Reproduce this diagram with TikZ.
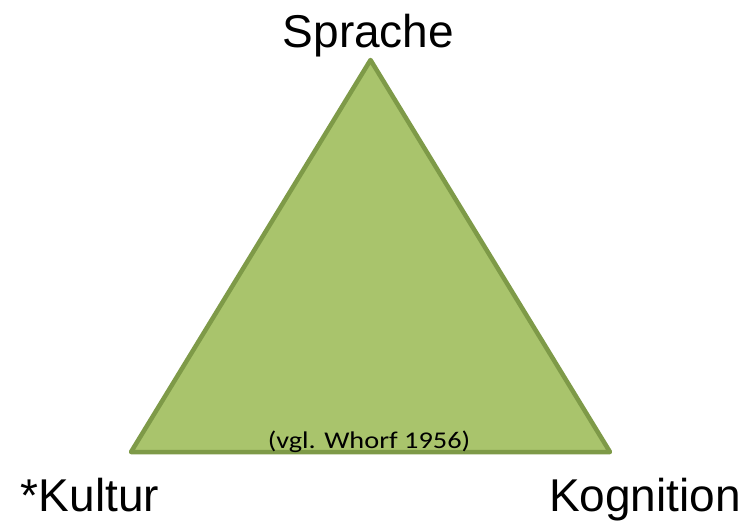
\documentclass[tikz,border=0pt]{standalone}
\usepackage{fontspec}
\setmainfont{Liberation Sans}
\newfontfamily\notefont[FakeStretch=1.18]{Carlito}
\usepackage{xcolor}
\usepackage{tikz}
\usetikzlibrary{arrows.meta}

\definecolor{trifill}{RGB}{169,196,108}
\definecolor{triline}{RGB}{126,154,72}

\begin{document}
\begin{tikzpicture}[
	x=1pt, y=-1pt,
	corner/.style={
		anchor=base,
		inner sep=0pt,
		font=\fontsize{46}{55}\selectfont
	},
	note/.style={
		anchor=base,
		inner sep=0pt,
		font=\notefont\fontsize{24}{29}\selectfont
	},
	tri/.style={
		draw=triline,
		fill=trifill,
		line width=4.5pt,
		line join=round
	}
	]
	
	\useasboundingbox (0,0) rectangle (746,523);
	
	% Corners of the triangle
	\coordinate (top) at (370.5,60);
	\coordinate (left) at (131,452);
	\coordinate (right) at (610,452);
	
	\draw[tri] (top) -- (right) -- (left) -- cycle;
	
	% Labels
	\node[corner] (sprache) at (368.5,47) {Sprache};
	\node[corner] (kultur) at (90,511) {*Kultur};
	\node[corner] (kognition) at (645,511) {Kognition};
	
	\node[note] (whorf) at (369,448) {(vgl. Whorf 1956)};
	
\end{tikzpicture}
\end{document}
